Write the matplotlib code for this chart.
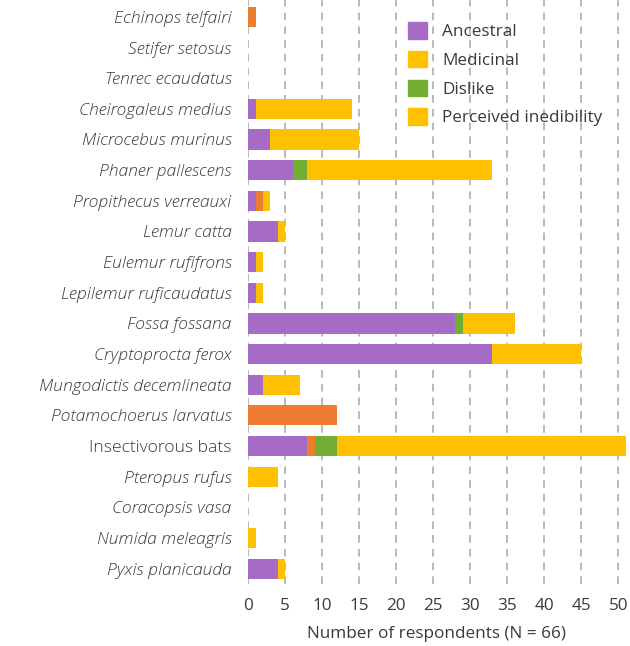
import matplotlib.pyplot as plt
from matplotlib.patches import Patch
import numpy as np

plt.rcParams['font.family'] = ['Open Sans', 'DejaVu Sans']

species = ["Echinops telfairi", "Setifer setosus", "Tenrec ecaudatus",
           "Cheirogaleus medius", "Microcebus murinus", "Phaner pallescens",
           "Propithecus verreauxi", "Lemur catta", "Eulemur rufifrons",
           "Lepilemur ruficaudatus", "Fossa fossana", "Cryptoprocta ferox",
           "Mungodictis decemlineata", "Potamochoerus larvatus",
           "Insectivorous bats", "Pteropus rufus", "Coracopsis vasa",
           "Numida meleagris", "Pyxis planicauda"]
ancestral  = [0, 0, 0, 1, 3, 6, 1, 4, 1, 1, 28, 33, 2, 0, 8, 0, 0, 0, 4]
medicinal  = [1, 0, 0, 0, 0, 0, 1, 0, 0, 0, 0, 0, 0, 12, 1, 0, 0, 0, 0]
dislike    = [0, 0, 0, 0, 0, 2, 0, 0, 0, 0, 1, 0, 0, 0, 3, 0, 0, 0, 0]
inedible   = [0, 0, 0, 13, 12, 25, 1, 1, 1, 1, 7, 12, 5, 0, 39, 4, 0, 1, 1]

purple = '#A66BC4'
orange = '#ED7D31'
green = '#72AE33'
yellow = '#FFC000'
grey = '#3a3a3a'
fs = 12.6

fig = plt.figure(figsize=(6.3, 6.46), dpi=100)
ax = fig.add_axes([0.394, 0.096, 0.599, 0.904])

y = np.arange(len(species))
left = np.zeros(len(species))
for vals, col in [(ancestral, purple), (medicinal, orange),
                  (dislike, green), (inedible, yellow)]:
    ax.barh(y, vals, left=left, height=0.66, color=col, zorder=3)
    left += np.array(vals)

ax.set_xlim(0, 51)
ax.set_ylim(len(species) - 0.5, -0.55)
ax.set_xticks(range(0, 51, 5))
ax.set_yticks(y)
ax.set_yticklabels(species, fontsize=fs, color=grey, fontweight='light')
for lab in ax.get_yticklabels():
    if lab.get_text() != "Insectivorous bats":
        lab.set_style('italic')
ax.tick_params(axis='x', labelsize=12.3, labelcolor=grey, length=0, pad=10)
ax.tick_params(axis='y', length=0, pad=12)
ax.grid(axis='x', color='#a6a6a6', linestyle=(0, (5, 4)), linewidth=1.1, zorder=0)
for s in ax.spines.values():
    s.set_visible(False)
ax.set_xlabel("Number of respondents (N = 66)", fontsize=12.3, color=grey, labelpad=9)

handles = [Patch(color=purple, label="Ancestral"),
           Patch(color=yellow, label="Medicinal"),
           Patch(color=green, label="Dislike"),
           Patch(color=yellow, label="Perceived inedibility")]
leg = ax.legend(handles=handles, loc='upper right', bbox_to_anchor=(0.98, 0.988),
                frameon=False, fontsize=12.3, handlelength=1.1, handleheight=1.1,
                handletextpad=0.9, labelspacing=0.62)
for t in leg.get_texts():
    t.set_color(grey)

fig.savefig("out.png", dpi=100)
